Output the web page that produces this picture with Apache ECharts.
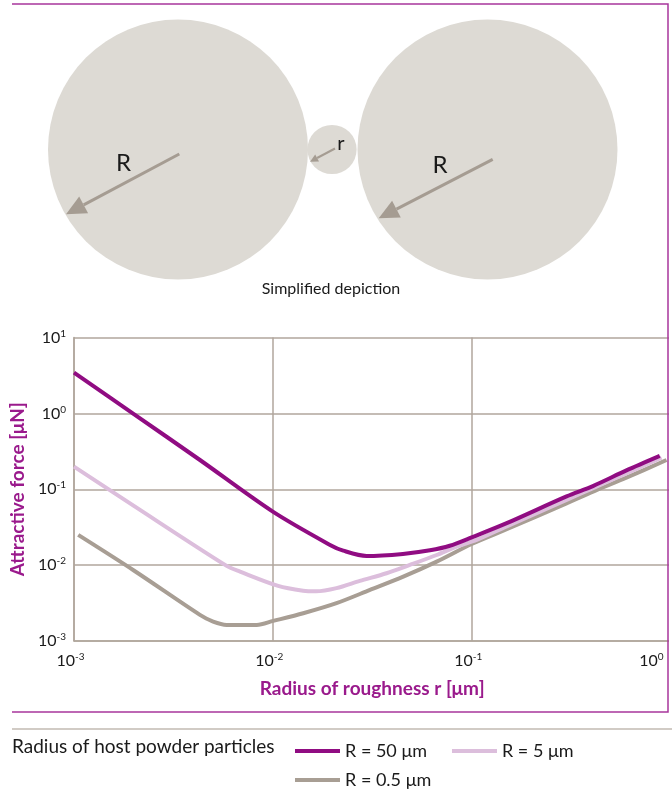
<!DOCTYPE html>
<html>
<head>
<meta charset="utf-8">
<script src="https://cdn.jsdelivr.net/npm/echarts@6/dist/echarts.min.js"></script>
<style>
  html, body { margin: 0; padding: 0; background: #ffffff; }
  #chart { width: 672px; height: 790px; }
</style>
</head>
<body>
<div id="chart"></div>
<script>
// Radius of roughness r [µm] and attractive force [µN], one pair of arrays per host particle size
const r50 = [0.001, 0.002, 0.0043, 0.01, 0.0194, 0.0226, 0.0296, 0.0451, 0.0617, 0.0776, 0.1, 0.15, 0.3, 0.407, 0.6, 0.883];
const f50 = [3.44, 0.979, 0.243, 0.0507, 0.01845, 0.0155, 0.0132, 0.01406, 0.0157, 0.0180, 0.0232, 0.0357, 0.0805, 0.110, 0.177, 0.275];

const r5 = [0.001, 0.002, 0.00586, 0.00684, 0.01064, 0.0142, 0.0165, 0.0209, 0.0274, 0.0373, 0.0489, 0.0667, 0.084, 0.106, 0.15, 0.3, 0.408, 0.6, 0.901];
const f5 = [0.199, 0.0604, 0.00977, 0.0082, 0.00532, 0.0046, 0.00452, 0.00497, 0.00619, 0.00782, 0.01006, 0.0136, 0.01754, 0.0215, 0.0324, 0.0722, 0.1036, 0.162, 0.261];

const r05 = [0.00105, 0.002, 0.0043, 0.00501, 0.00586, 0.0083, 0.01004, 0.01422, 0.0209, 0.0308, 0.0453, 0.0667, 0.1, 0.15, 0.3, 0.408, 0.6, 0.955];
const f05 = [0.025, 0.0085, 0.00221, 0.0018, 0.00163, 0.00163, 0.00184, 0.00232, 0.00315, 0.00471, 0.00705, 0.01111, 0.019, 0.0297, 0.065, 0.093, 0.142, 0.243];

const seriesNames = ['R = 50 μm', 'R = 5 μm', 'R = 0.5 μm'];
const xRange = [0.001, 1];
const yRange = [0.001, 10];

const FONT = 'Lato';
const PURPLE = '#900c82';
const PINK = '#dcbedc';
const TAUPE = '#a89e94';
const GRID = '#b0a69c';
const FRAME = '#a8369c';
const NAME = '#9a1a8c';
const PARTICLE = '#dddad4';
const ARROW = '#a59c92';

const pairs = (xs, ys) => xs.map((x, i) => [x, ys[i]]);

// powers of ten written as 10 with a raised exponent
function powerLabel(v) {
  const e = Math.round(Math.log10(v));
  return '{b|10}{s|' + (e < 0 ? '-' + (-e) : String(e)) + '}';
}
const powerRich = {
  b: { fontSize: 16, fontFamily: FONT, color: '#1a1a1a' },
  s: { fontSize: 10, fontFamily: FONT, color: '#1a1a1a', padding: [0, 0, 8, 0] }
};

const chart = echarts.init(document.getElementById('chart'), null, { renderer: 'canvas' });

const lineSeries = (name, xs, ys, color, z) => ({
  name: name,
  type: 'line',
  data: pairs(xs, ys),
  symbol: 'none',
  smooth: 0.3,
  color: color,
  lineStyle: { color: color, width: 4, cap: 'butt', join: 'round' },
  z: z,
  animation: false
});

const keyText = { fontFamily: FONT, fontSize: 18, color: '#1a1a1a' };

chart.setOption({
  animation: false,
  backgroundColor: '#ffffff',
  title: {
    text: 'Radius of host powder particles',
    left: 12, top: 737, padding: 0,
    textStyle: { fontFamily: FONT, fontSize: 19, fontWeight: 'normal', color: '#1a1a1a' }
  },
  legend: [
    {
      data: [seriesNames[0], seriesNames[1]],
      left: 295, top: 742, padding: 0,
      icon: 'rect', itemWidth: 45, itemHeight: 4, itemGap: 25,
      textStyle: keyText,
      selectedMode: false
    },
    {
      data: [seriesNames[2]],
      left: 295, top: 771, padding: 0,
      icon: 'rect', itemWidth: 45, itemHeight: 4,
      textStyle: keyText,
      selectedMode: false
    }
  ],
  grid: { left: 74, right: 1.5, top: 337.5, bottom: 149, containLabel: false },
  xAxis: {
    type: 'log', logBase: 10, min: xRange[0], max: xRange[1], splitNumber: 3,
    name: 'Radius of roughness r [μm]',
    nameLocation: 'middle', nameGap: 38,
    nameTextStyle: { fontFamily: FONT, fontSize: 19, fontWeight: 'bold', color: NAME },
    axisLine: { show: true, lineStyle: { color: GRID, width: 1.5 } },
    axisTick: { show: false },
    splitLine: { show: true, lineStyle: { color: GRID, width: 1.5 } },
    axisLabel: { formatter: powerLabel, rich: powerRich, margin: 11, alignMaxLabel: 'right', padding: [0, 7, 0, 0] }
  },
  yAxis: {
    type: 'log', logBase: 10, min: yRange[0], max: yRange[1], splitNumber: 4,
    name: 'Attractive force [μN]',
    nameLocation: 'middle', nameGap: 39, nameRotate: 90,
    nameTextStyle: { fontFamily: FONT, fontSize: 19, fontWeight: 'bold', color: NAME },
    axisLine: { show: true, lineStyle: { color: GRID, width: 1.5 } },
    axisTick: { show: false },
    splitLine: { show: true, lineStyle: { color: GRID, width: 1.5 } },
    axisLabel: { formatter: powerLabel, rich: powerRich, margin: 8 }
  },
  series: [
    lineSeries(seriesNames[2], r05, f05, TAUPE, 2),
    lineSeries(seriesNames[1], r5, f5, PINK, 3),
    lineSeries(seriesNames[0], r50, f50, PURPLE, 4)
  ],
  graphic: [
    // sketch of two host particles with a small roughness particle between them
    { type: 'circle', shape: { cx: 178, cy: 149.5, r: 130 }, style: { fill: PARTICLE }, z: 1 },
    { type: 'circle', shape: { cx: 487.5, cy: 149.5, r: 130 }, style: { fill: PARTICLE }, z: 1 },
    { type: 'circle', shape: { cx: 332, cy: 149.5, r: 24.6 }, style: { fill: PARTICLE }, z: 1 },
    { type: 'line', shape: { x1: 179.3, y1: 154, x2: 83.7, y2: 204.9 }, style: { stroke: ARROW, lineWidth: 3 }, z: 2 },
    { type: 'polygon', shape: { points: [[66, 214.3], [88.1, 213.3], [79.2, 196.5]] }, style: { fill: ARROW }, z: 2 },
    { type: 'line', shape: { x1: 492.7, y1: 159.3, x2: 396.5, y2: 209.1 }, style: { stroke: ARROW, lineWidth: 3 }, z: 2 },
    { type: 'polygon', shape: { points: [[378.7, 218.3], [400.8, 217.5], [392.1, 200.7]] }, style: { fill: ARROW }, z: 2 },
    { type: 'line', shape: { x1: 335, y1: 148.5, x2: 317.1, y2: 158 }, style: { stroke: ARROW, lineWidth: 2 }, z: 2 },
    { type: 'polygon', shape: { points: [[310, 161.7], [319, 161.5], [315.2, 154.4]] }, style: { fill: ARROW }, z: 2 },
    { type: 'text', style: { text: 'R', x: 123.5, y: 163, align: 'center', verticalAlign: 'middle', font: '24px Lato', fill: '#1a1a1a' }, z: 3 },
    { type: 'text', style: { text: 'R', x: 440, y: 165, align: 'center', verticalAlign: 'middle', font: '24px Lato', fill: '#1a1a1a' }, z: 3 },
    { type: 'text', style: { text: 'r', x: 341, y: 144, align: 'center', verticalAlign: 'middle', font: '20px Lato', fill: '#1a1a1a' }, z: 3 },
    { type: 'text', style: { text: 'Simplified depiction', x: 331, y: 289, align: 'center', verticalAlign: 'middle', font: '16px Lato', fill: '#1a1a1a' }, z: 3 },
    // frame around the figure and separator above the key
    { type: 'rect', shape: { x: 669, y: 325, width: 3, height: 330 }, style: { fill: '#ffffff' }, z: 50 },
    { type: 'polyline', shape: { points: [[12, 4], [668, 4], [668, 712], [12, 712]] }, style: { stroke: FRAME, lineWidth: 1.5, fill: null }, z: 60 },
    { type: 'line', shape: { x1: 12, y1: 729, x2: 672, y2: 729 }, style: { stroke: '#c2bab2', lineWidth: 1.5 }, z: 60 }
  ]
});
</script>
</body>
</html>
